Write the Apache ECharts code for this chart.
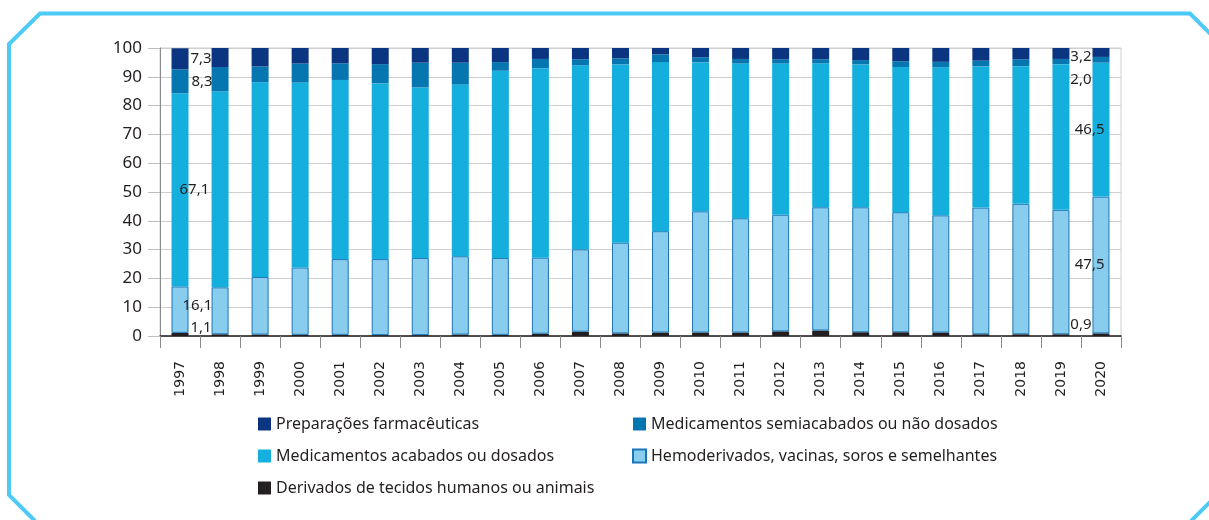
<!DOCTYPE html>
<html>
<head>
<meta charset="utf-8">
<script src="https://cdn.jsdelivr.net/npm/echarts@6/dist/echarts.min.js"></script>
<style>
  html, body { margin: 0; padding: 0; background: #fff; }
  #chart { width: 1209px; height: 520px; }
</style>
</head>
<body>
<div id="chart"></div>
<script>
// anos (eixo x)
var years = ['1997', '1998', '1999', '2000', '2001', '2002', '2003', '2004', '2005', '2006', '2007', '2008',
  '2009', '2010', '2011', '2012', '2013', '2014', '2015', '2016', '2017', '2018', '2019', '2020']

// participação (%) por grupo, de baixo para cima na pilha
var derivados = [1.1, 0.6, 0.5, 0.4, 0.4, 0.3, 0.3, 0.5, 0.4, 0.8, 1.5, 0.9, 1.2, 1.2, 1.2, 1.6, 1.9, 1.3, 1.3, 1.2, 0.6, 0.6, 0.6, 0.9]
var hemoderivados = [16.1, 16.3, 20.0, 23.4, 26.3, 26.4, 26.8, 27.2, 26.7, 26.4, 28.6, 31.5, 35.2, 42.1, 39.7, 40.5, 42.8, 43.4, 41.7, 40.7, 44.0, 45.3, 43.2, 47.5]
var acabados = [67.1, 68.0, 67.6, 64.2, 62.2, 61.0, 59.2, 59.6, 65.0, 65.8, 63.9, 61.9, 58.7, 51.7, 53.7, 52.5, 50.0, 49.6, 50.4, 51.4, 49.0, 47.8, 50.6, 46.5]
var semiacabados = [8.3, 8.5, 5.5, 6.6, 5.8, 6.7, 8.6, 7.6, 3.0, 3.2, 2.1, 2.1, 2.7, 1.8, 1.6, 1.5, 1.4, 1.5, 2.0, 1.9, 2.0, 2.4, 1.8, 2.0]
var preparacoes = [7.3, 6.6, 6.4, 5.4, 5.3, 5.6, 5.1, 5.1, 4.9, 3.8, 3.9, 3.6, 3.1, 3.2, 3.8, 3.9, 3.9, 4.2, 4.6, 4.8, 4.4, 3.9, 3.8, 3.2]

var yTicks = [0, 10, 20, 30, 40, 50, 60, 70, 80, 90, 100]

var names = {
  prep: 'Preparações farmacêuticas',
  semi: 'Medicamentos semiacabados ou não dosados',
  acab: 'Medicamentos acabados ou dosados',
  hemo: 'Hemoderivados, vacinas, soros e semelhantes',
  deriv: 'Derivados de tecidos humanos ou animais'
}

var textColor = '#231f20'
var labelFont = 'Noto Sans'

// rótulos só no primeiro e no último ano
function withEndLabels(values, firstOffset, lastOffset) {
  var last = values.length - 1
  return values.map(function (v, i) {
    if (i === 0) {
      return { value: v, label: { show: true, position: 'right', distance: 0, offset: firstOffset } }
    }
    if (i === last) {
      return { value: v, label: { show: true, position: 'left', distance: 0, offset: lastOffset } }
    }
    return v
  })
}

function makeSeries(name, values, color, firstOffset, lastOffset, border) {
  return {
    name: name,
    type: 'bar',
    stack: 'total',
    barWidth: 17,
    itemStyle: {
      color: color,
      borderColor: border || color,
      borderWidth: border ? 1 : 0
    },
    label: {
      show: false,
      color: textColor,
      fontFamily: labelFont,
      fontSize: 15,
      formatter: function (p) {
        return p.value.toFixed(1).replace('.', ',')
      }
    },
    emphasis: { disabled: true },
    data: withEndLabels(values, firstOffset, lastOffset)
  }
}

var chart = echarts.init(document.getElementById('chart'))
chart.setOption({
  backgroundColor: '#fff',
  animation: false,
  textStyle: { fontFamily: labelFont },
  graphic: [{
    type: 'polyline',
    shape: {
      points: [[35, 521], [9, 495], [9, 44], [40, 13.5], [1190, 13.5], [1222, 45.5], [1222, 490], [1191, 521]]
    },
    style: { stroke: '#4dcaf5', lineWidth: 4, fill: null }
  }],
  grid: {
    left: 160,
    right: 88,
    top: 48,
    bottom: 184,
    show: true,
    borderColor: '#cfcfcf',
    borderWidth: 1
  },
  legend: [{
    orient: 'vertical',
    left: 253,
    top: 411,
    itemWidth: 13,
    itemHeight: 13,
    itemGap: 16,
    icon: 'rect',
    textStyle: { color: textColor, fontFamily: labelFont, fontSize: 16 },
    data: [names.prep, names.acab, names.deriv]
  }, {
    orient: 'vertical',
    left: 627,
    top: 411,
    itemWidth: 13,
    itemHeight: 13,
    itemGap: 16,
    icon: 'rect',
    textStyle: { color: textColor, fontFamily: labelFont, fontSize: 16 },
    data: [names.semi, names.hemo]
  }],
  xAxis: {
    type: 'category',
    data: years,
    axisLine: { lineStyle: { color: textColor, width: 1.5 } },
    axisTick: { show: true, length: 12, lineStyle: { color: '#8a8a8a' } },
    axisLabel: {
      rotate: 90,
      margin: 25,
      color: textColor,
      fontFamily: 'DejaVu Sans',
      fontSize: 14
    }
  },
  yAxis: {
    type: 'value',
    min: yTicks[0],
    max: yTicks[yTicks.length - 1],
    interval: 10,
    axisLine: { show: true, lineStyle: { color: '#8a8a8a' } },
    axisTick: { show: true, length: 12, lineStyle: { color: '#bdbdbd' } },
    axisLabel: {
      margin: 18,
      color: textColor,
      fontFamily: labelFont,
      fontSize: 17
    },
    splitLine: { lineStyle: { color: '#cfcfcf' } }
  },
  series: [
    makeSeries(names.deriv, derivados, '#231f20', [2, -7], [-1, -10]),
    makeSeries(names.hemo, hemoderivados, '#88ccee', [-6, -4], [12, 0], '#1a75b5'),
    makeSeries(names.acab, acabados, '#14afdd', [-9, 0], [12, 0]),
    makeSeries(names.semi, semiacabados, '#0676b0', [3, 0], [-1, 20]),
    makeSeries(names.prep, preparacoes, '#0b3580', [2, 0], [-1, 4])
  ]
})
</script>
</body>
</html>
